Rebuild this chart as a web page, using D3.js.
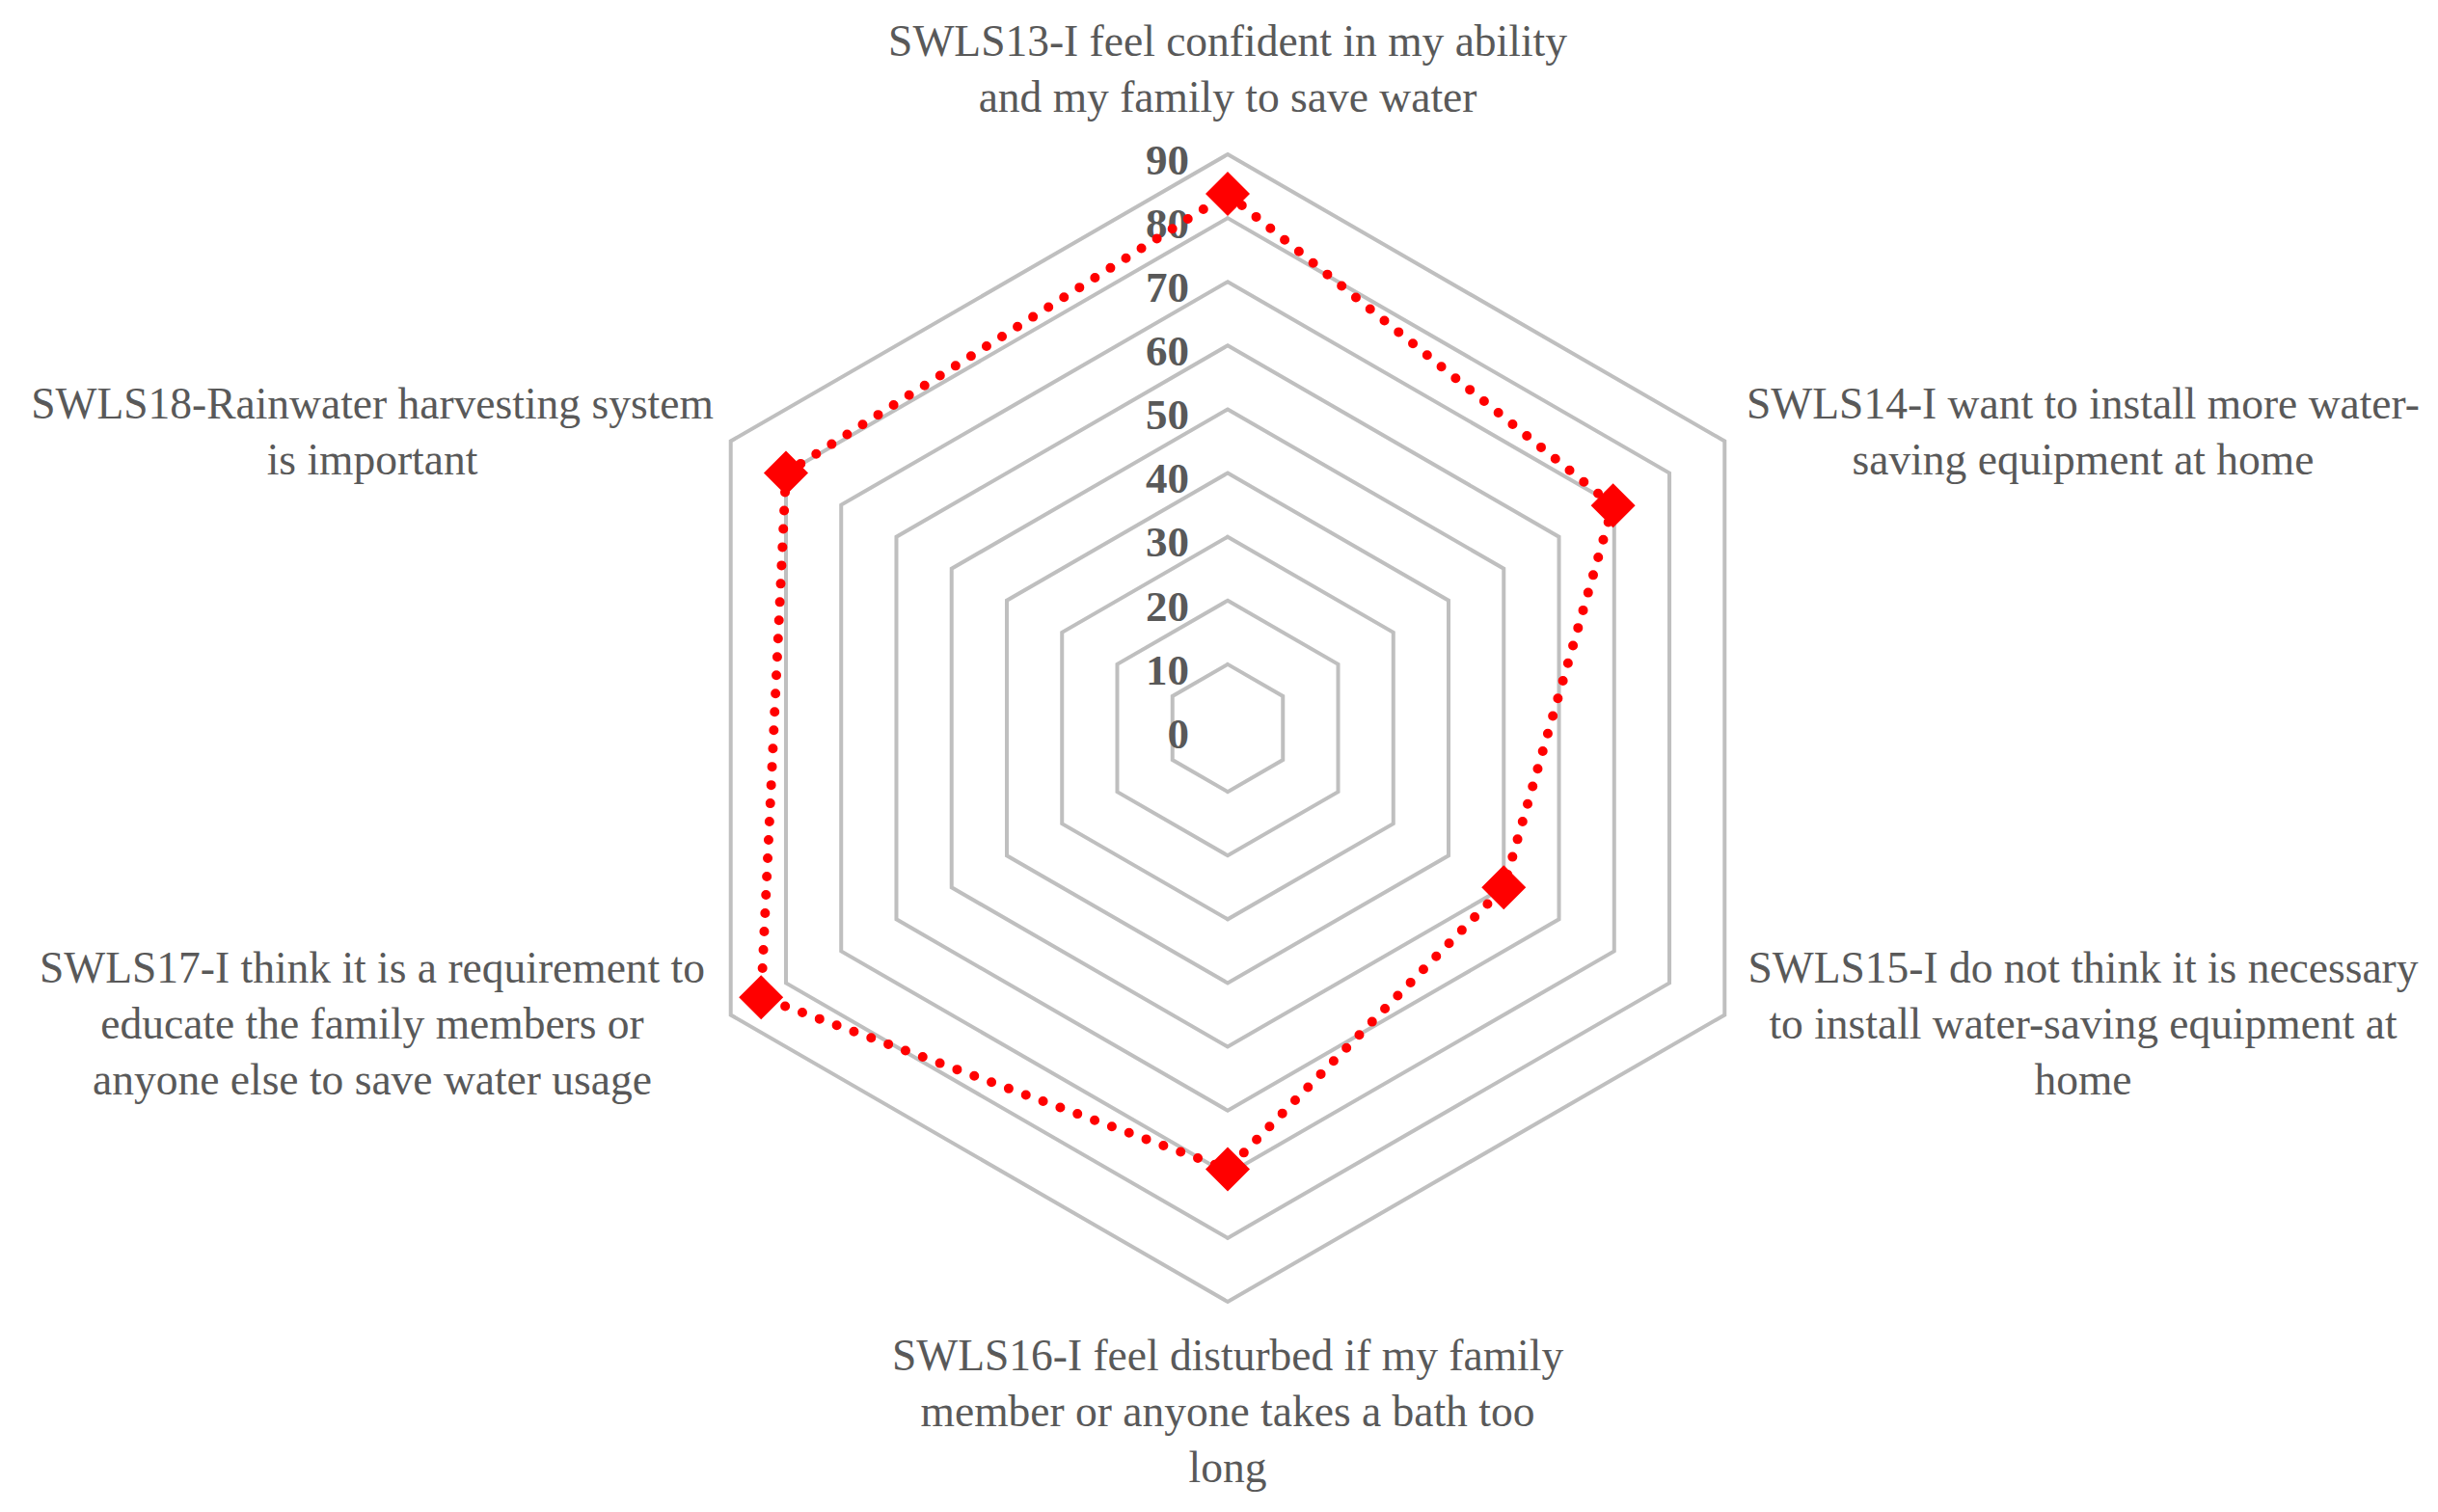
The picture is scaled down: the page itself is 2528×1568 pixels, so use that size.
<!DOCTYPE html>
<html>
<head>
<meta charset="utf-8">
<script src="https://cdn.jsdelivr.net/npm/d3@7"></script>
<style>
  body { margin: 0; background: #fff; }
  svg { display: block; }
</style>
</head>
<body>
<div id="chart"></div>
<script>
// chart data
var categories = [
  "SWLS13-I feel confident in my ability and my family to save water",
  "SWLS14-I want to install more water-saving equipment at home",
  "SWLS15-I do not think it is necessary to install water-saving equipment at home",
  "SWLS16-I feel disturbed if my family member or anyone takes a bath too long",
  "SWLS17-I think it is a requirement to educate the family members or anyone else to save water usage",
  "SWLS18-Rainwater harvesting system is important"
];
// line breaks as they appear in the chart
var labelLines = [
  ["SWLS13-I feel confident in my ability", "and my family to save water"],
  ["SWLS14-I want to install more water-", "saving equipment at home"],
  ["SWLS15-I do not think it is necessary", "to install water-saving equipment at", "home"],
  ["SWLS16-I feel disturbed if my family", "member or anyone takes a bath too", "long"],
  ["SWLS17-I think it is a requirement to", "educate the family members or", "anyone else to save water usage"],
  ["SWLS18-Rainwater harvesting system", "is important"]
];
var values = [83.8, 69.8, 50.0, 69.2, 84.5, 80.0];
var ticks = [0, 10, 20, 30, 40, 50, 60, 70, 80, 90];

function RadarChart(options) {
    this.width = options.width || 2528;
    this.height = options.height || 1568;
    this.cx = options.cx || 1273;
    this.cy = options.cy || 755;
    this.radius = options.radius || 595;
    this.svg = d3.select(options.ele || "body").append("svg")
        .attr("width", this.width)
        .attr("height", this.height);
}

RadarChart.prototype.chart = function () {
    var n = categories.length;
    var angle = d3.scaleLinear().domain([0, n]).range([0, 2 * Math.PI]);
    var r = d3.scaleLinear().domain([0, d3.max(ticks)]).range([0, this.radius]);
    var font = "'Palatino Linotype','Book Antiqua',Palatino,'Liberation Serif',serif";

    var g = this.svg.append("g")
        .attr("transform", "translate(" + this.cx + "," + this.cy + ")");

    // grid rings (no ring drawn at 0)
    var ring = d3.lineRadial()
        .angle(function (d, i) { return angle(i); })
        .radius(function (d) { return r(d); })
        .curve(d3.curveLinearClosed);

    g.selectAll(".grid")
        .data(ticks.filter(function (t) { return t > 0; }))
        .enter().append("path")
        .attr("class", "grid")
        .attr("d", function (t) { return ring(d3.range(n).map(function () { return t; })); })
        .attr("fill", "none")
        .attr("stroke", "#BFBFBF")
        .attr("stroke-width", 4);

    // value axis labels
    g.selectAll(".tick")
        .data(ticks)
        .enter().append("text")
        .attr("class", "tick")
        .attr("x", -40)
        .attr("y", function (t) { return -r(t) + 5; })
        .attr("dy", "0.35em")
        .attr("text-anchor", "end")
        .attr("font-family", font)
        .attr("font-weight", "bold")
        .attr("font-size", 45)
        .attr("fill", "#595959")
        .text(function (t) { return t; });

    // series line
    var line = d3.lineRadial()
        .angle(function (d, i) { return angle(i); })
        .radius(function (d) { return r(d); })
        .curve(d3.curveLinearClosed);

    g.append("path")
        .datum(values)
        .attr("d", line)
        .attr("fill", "none")
        .attr("stroke", "#FF0000")
        .attr("stroke-width", 10)
        .attr("stroke-linecap", "round")
        .attr("stroke-dasharray", "0 19");

    // diamond markers
    var diamond = d3.symbol().type(d3.symbolSquare).size(1058);
    g.selectAll(".marker")
        .data(values)
        .enter().append("path")
        .attr("class", "marker")
        .attr("d", diamond)
        .attr("fill", "#FF0000")
        .attr("transform", function (d, i) {
            var a = angle(i);
            return "translate(" + (r(d) * Math.sin(a)) + "," + (-r(d) * Math.cos(a)) + ") rotate(45)";
        });

    // category labels
    var R = r(90), lineH = 58;
    var labels = g.selectAll(".cat")
        .data(labelLines)
        .enter().append("text")
        .attr("class", "cat")
        .attr("text-anchor", "middle")
        .attr("font-family", font)
        .attr("font-size", 45.5)
        .attr("fill", "#595959")
        .each(function (lines, i) {
            var a = angle(i), s = Math.sin(a), c = Math.cos(a);
            var x, y;
            if (Math.abs(s) < 1e-6) {
                x = 0;
                y = c > 0 ? -R - 89 : R + 113;
            } else {
                x = (s > 0 ? 1 : -1) * 887;
                y = -R * c + (c > 0 ? -10 : 9);
            }
            d3.select(this).selectAll("tspan")
                .data(lines)
                .enter().append("tspan")
                .attr("x", x)
                .attr("y", function (d, j) { return y + (j - (lines.length - 1) / 2) * lineH; })
                .attr("dy", "0.35em")
                .text(function (d) { return d; });
        });
    labels.append("title").text(function (d, i) { return categories[i]; });
};

var chart = new RadarChart({ ele: "#chart", width: 2528, height: 1568 });
chart.chart();
</script>
</body>
</html>
